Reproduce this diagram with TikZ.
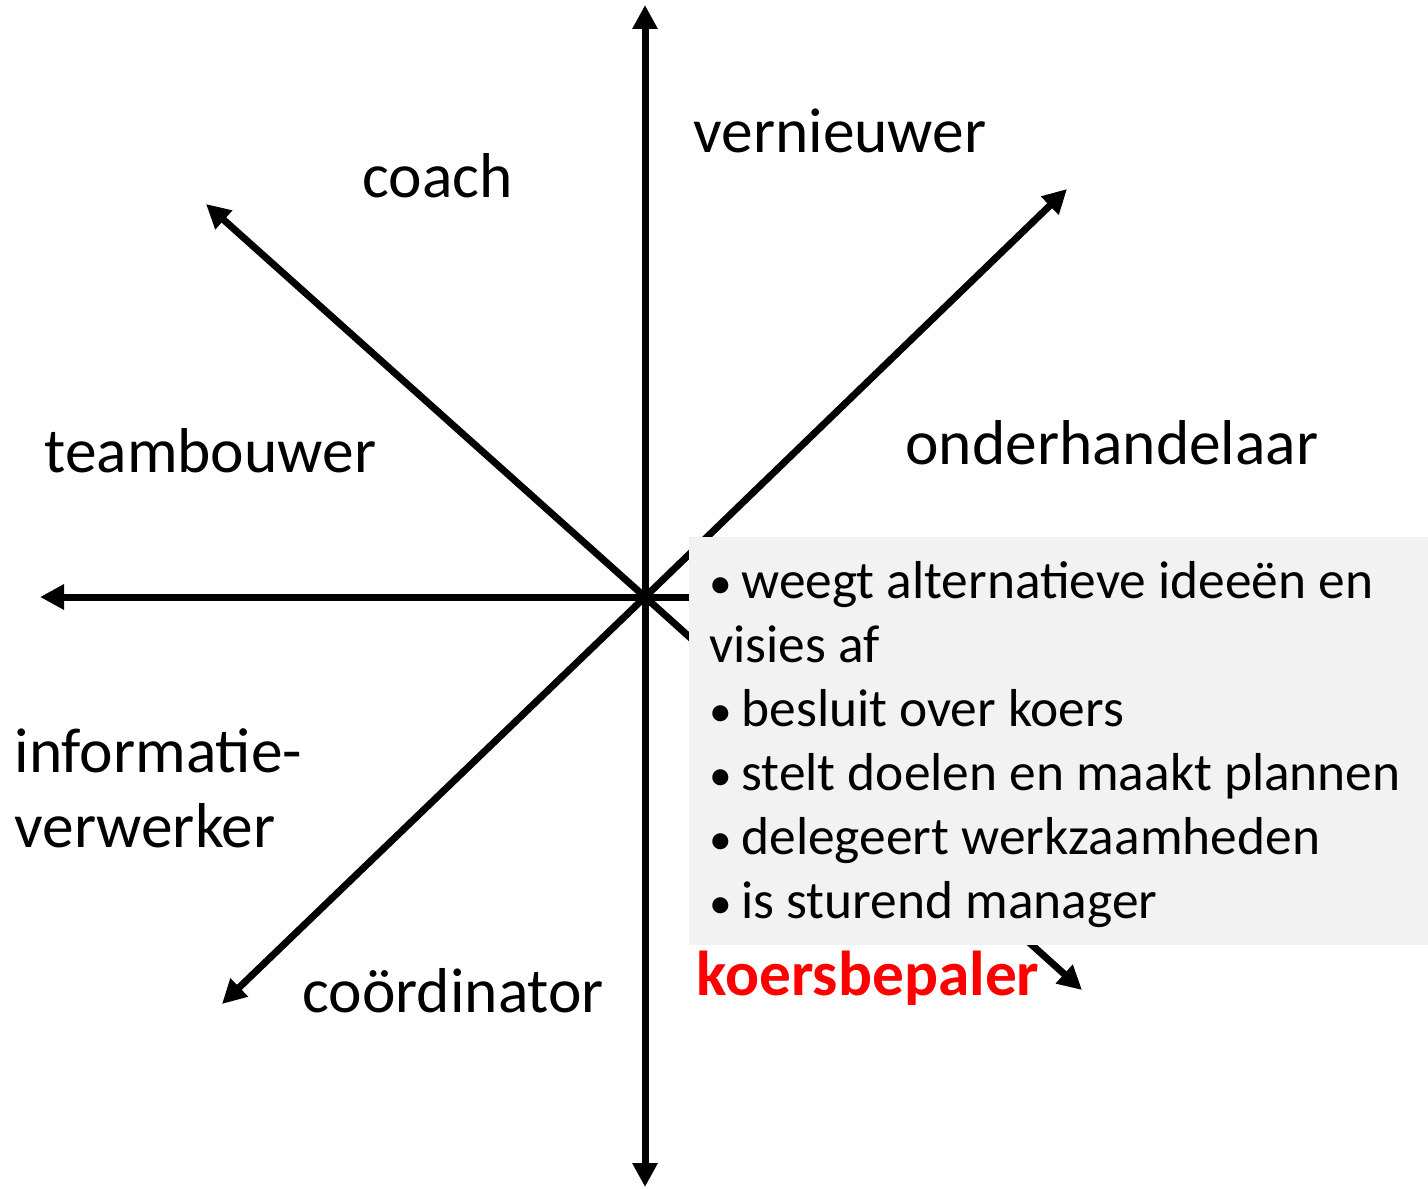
\documentclass[tikz,border=0pt]{standalone}
\usepackage{fontspec}
\setmainfont{Carlito}
\usetikzlibrary{arrows.meta}
\definecolor{boxgray}{HTML}{F2F2F2}
\newcommand{\bul}{\makebox[16pt][l]{\scalebox{0.85}{•}}}

\begin{document}
\begin{tikzpicture}[x=0.5pt,y=-0.5pt,->,>={Triangle[length=12pt,width=12pt]},line width=3.5pt,
  role/.style={anchor=base west,inner sep=0pt,align=left,font=\fontsize{31.7}{37.5}\selectfont},
  infobox/.style={fill=boxgray,draw=none,anchor=north west,inner sep=0pt,outer sep=0pt,
    minimum width=369.5pt,minimum height=204pt}]

  \useasboundingbox (0,0) rectangle (1428,1188);

  % centre and arrow ends
  \coordinate (c) at (645,597);
  \coordinate (n) at (645,5);
  \coordinate (s) at (645,1187);
  \coordinate (w) at (40,597);
  \coordinate (e) at (1250,597);
  \coordinate (nw) at (206,204);
  \coordinate (ne) at (1067,189);
  \coordinate (sw) at (222,1004);
  \coordinate (se) at (1082,990);

  \draw[<->] (s) -- (n);
  \draw[-] (c) -- (e);
  \path (c) edge (w)
            edge (nw)
            edge (ne)
            edge (sw)
            edge (se);

  % labels (base = last line)
  \node[role] (vern) at (690,152) {vernieuwer};
  \node[role] (coach) at (359,197) {coach};
  \node[role] (team) at (41,472) {teambouwer};
  \node[role] (onder) at (902,464) {onderhandelaar};
  \node[role] (info) at (11,847) {informatie-\\verwerker};
  \node[role] (coord) at (299,1012) {coördinator};

  % description box
  \node[infobox] (descbox) at (689,537) {};
  \node[anchor=base west,inner sep=0pt,align=left,font=\fontsize{26.7}{32}\selectfont]
    (desc) at (706,918) {\bul weegt alternatieve ideeën en\\
      visies af\\
      \bul besluit over koers\\
      \bul stelt doelen en maakt plannen\\
      \bul delegeert werkzaamheden\\
      \bul is sturend manager};
  \node[role,text=red,font=\fontsize{31.7}{35}\selectfont\bfseries] (koers) at (693,995) {koersbepaler};
\end{tikzpicture}
\end{document}
